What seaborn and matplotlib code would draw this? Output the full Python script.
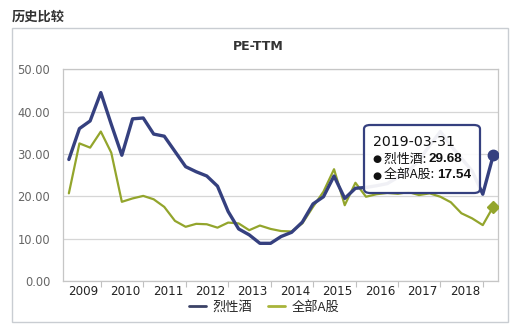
import matplotlib
matplotlib.use("Agg")
import matplotlib.pyplot as plt
from matplotlib.patches import FancyBboxPatch, Rectangle
from matplotlib.lines import Line2D
import seaborn as sns
import pandas as pd

# ---- data ----
dates = pd.date_range("2009-03-31", periods=41, freq="QE")
liquor = [28.7, 36.0, 37.8, 44.5, 37.0, 29.7, 38.3, 38.5, 34.7, 34.2,
          30.6, 27.0, 25.8, 24.8, 22.4, 16.4, 12.3, 10.9, 8.9, 8.9,
          10.5, 11.5, 13.9, 18.2, 19.9, 24.8, 19.5, 21.9, 22.1, 22.5,
          23.0, 24.5, 26.0, 28.5, 32.0, 35.3, 32.0, 29.0, 26.0, 20.5, 29.68]
all_a = [20.7, 32.5, 31.5, 35.3, 30.3, 18.7, 19.5, 20.1, 19.3, 17.5,
         14.2, 12.8, 13.5, 13.4, 12.6, 13.8, 13.6, 12.0, 13.1, 12.3,
         11.8, 11.7, 13.6, 17.5, 21.1, 26.4, 17.9, 23.2, 19.9, 20.5,
         20.8, 20.6, 21.0, 20.3, 20.7, 19.9, 18.6, 16.0, 14.8, 13.2, 17.54]
series_names = ["烈性酒", "全部A股"]
years = list(range(2009, 2019))
y_ticks = [0, 10, 20, 30, 40, 50]
tooltip_date = "2019-03-31"

BLUE = "#35407f"
GREEN = "#93a52c"

sns.set_theme(style="white")
plt.rcParams['font.family'] = ['DejaVu Sans', 'Noto Sans CJK SC']

df = pd.DataFrame({"date": list(dates) * 2,
                   "value": liquor + all_a,
                   "series": [series_names[0]] * len(dates) + [series_names[1]] * len(dates)})

fig = plt.figure(figsize=(5.16, 3.32), dpi=100)
fig.patch.set_facecolor("white")
W, H = 516, 332

# outer frame
fig.patches.append(Rectangle((12 / W, 1 - 322 / H), (508 - 12) / W, (322 - 28) / H,
                             transform=fig.transFigure, fill=False,
                             edgecolor="#c9cdd2", linewidth=1.0))
fig.text(12 / W, 1 - 17 / H, "历史比较", family=['Noto Sans CJK SC'], fontsize=9.5,
         fontweight="bold", color="#333333", va="center", ha="left")

ax = fig.add_axes([62.7 / W, 1 - 281 / H, (498 - 62.7) / W, (281 - 69.3) / H])
ax.set_facecolor("white")

sns.lineplot(data=df, x="date", y="value", hue="series",
             palette=[BLUE, GREEN], ax=ax, legend=False)
lines = ax.get_lines()
lines[0].set_linewidth(2.4)
lines[1].set_linewidth(1.6)
lines[0].set_zorder(3)
lines[1].set_zorder(2)

ax.plot([dates[-1]], [liquor[-1]], marker="o", markersize=7.5, color=BLUE, zorder=5, linestyle="none")
ax.plot([dates[-1]], [all_a[-1]], marker="D", markersize=6, color=GREEN, zorder=5, linestyle="none")

ax.set_xlim(pd.Timestamp("2009-02-06"), pd.Timestamp("2019-05-11"))
ax.set_ylim(0, 50)
ax.set_yticks(y_ticks)
ax.set_yticklabels([f"{v:.2f}" for v in y_ticks], color="#666666", fontsize=8.3)
ax.yaxis.grid(True, color="#d6d6d6", linewidth=0.9)
ax.xaxis.grid(False)

ax.set_xticks([pd.Timestamp(f"{y + 1}-01-01") for y in years])
ax.set_xticklabels([])
ax.set_xticks([pd.Timestamp(f"{y}-07-31") for y in years], minor=True)
ax.set_xticklabels([str(y) for y in years], minor=True, fontsize=8.6, color="#222222")
ax.tick_params(axis="x", which="major", length=4, width=0.8, color="#c0c0c0", direction="out", bottom=True)
ax.tick_params(axis="x", which="minor", length=0, pad=3)
ax.tick_params(axis="y", length=0, pad=9)
for s in ax.spines.values():
    s.set_color("#c6c6c6")
    s.set_linewidth(0.9)
ax.set_xlabel("")
ax.set_ylabel("")

# title
fig.text(258 / W, 1 - 47 / H, "PE-TTM", fontsize=9, fontweight="bold", color="#333333",
         ha="center", va="center")

# legend
handles = [Line2D([], [], color="#3b4266", linewidth=2.0),
           Line2D([], [], color="#a8b43a", linewidth=2.0)]
fig.legend(handles, series_names, loc="center", bbox_to_anchor=(264 / W, 1 - 307 / H),
           ncol=2, frameon=False, handlelength=1.3, handletextpad=0.5,
           columnspacing=1.2, prop={'family': ['Noto Sans CJK SC'], 'size': 9.5})

# tooltip
bx, by0, bx1, by1 = 364, 125, 480, 193
box = FancyBboxPatch((bx / W, 1 - by1 / H), (bx1 - bx) / W, (by1 - by0) / H,
                     boxstyle="round,pad=0,rounding_size=0.012",
                     transform=fig.transFigure, facecolor="white", alpha=0.93,
                     edgecolor="none", zorder=10)
fig.patches.append(box)
border = FancyBboxPatch((bx / W, 1 - by1 / H), (bx1 - bx) / W, (by1 - by0) / H,
                        boxstyle="round,pad=0,rounding_size=0.012",
                        transform=fig.transFigure, facecolor="none",
                        edgecolor=BLUE, linewidth=1.6, zorder=11)
fig.patches.append(border)

fig.text(373 / W, 1 - 142 / H, tooltip_date, fontsize=10.2, color="#111111",
         ha="left", va="center", zorder=12)
fig.canvas.draw()
renderer = fig.canvas.get_renderer()
rows = [(series_names[0], liquor[-1], 159), (series_names[1], all_a[-1], 175.5)]
for name, val, yy in rows:
    fig.text(372.5 / W, 1 - yy / H, "●", fontsize=7.5, color="#111111",
             ha="left", va="center", zorder=12)
    t = fig.text(383.5 / W, 1 - yy / H, f"{name}: ", family=['Noto Sans CJK SC'],
                 fontsize=9.3, color="#111111", ha="left", va="center", zorder=12)
    bb = t.get_window_extent(renderer)
    fig.text(bb.x1 / W, 1 - yy / H, f"{val:.2f}", family=['Liberation Sans'],
             fontsize=9.7, fontweight="bold", color="#111111", ha="left",
             va="center", zorder=12)

fig.savefig("out.png", dpi=100, facecolor="white")
